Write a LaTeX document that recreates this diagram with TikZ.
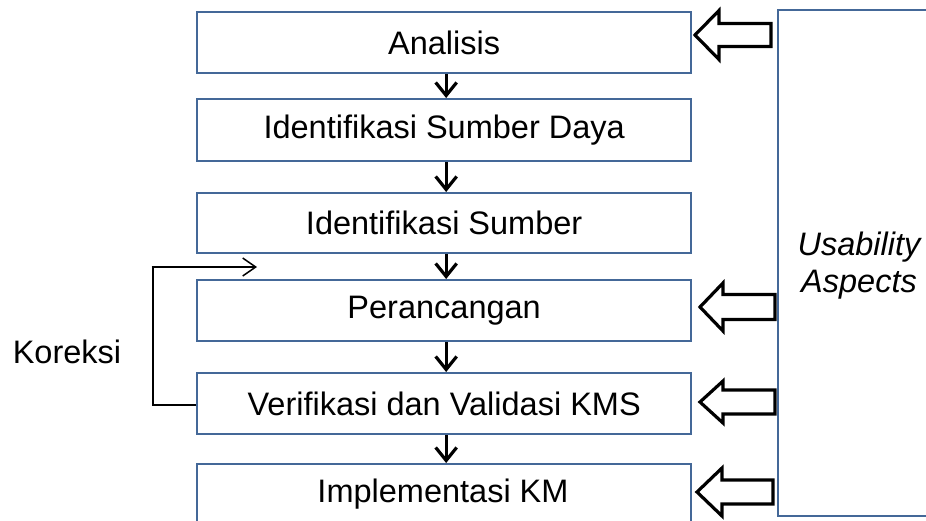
\documentclass[tikz,border=0pt]{standalone}
\usepackage{fontspec}
\setmainfont{Liberation Sans}
\usetikzlibrary{arrows.meta}
\definecolor{boxblue}{RGB}{68,104,152}
\tikzset{
  stepbox/.style={draw=boxblue, line width=2.3pt, fill=white, minimum width=494pt, anchor=north west, inner sep=0pt, font=\fontsize{32.5}{38}\selectfont},
  flowarrow/.style={line width=3.2pt, -{Straight Barb[length=13pt,width=21pt,line width=3.2pt]}},
  blockarrow/.style={draw=black, line width=3.2pt, fill=white, line join=miter},
  labeltext/.style={font=\fontsize{32.5}{37}\selectfont, inner sep=0pt}
}
\newcommand{\blockarrowat}[6]{% tipx, cy, headbasex, tailx, halfhead, halfshaft
  \draw[blockarrow] (#1,#2) -- (#3,#2-#5) -- (#3,#2-#6) -- (#4,#2-#6) -- (#4,#2+#6) -- (#3,#2+#6) -- (#3,#2+#5) -- cycle;
}
\begin{document}
\begin{tikzpicture}[x=1pt,y=-1pt]
\useasboundingbox (0,0) rectangle (926,520);
\clip (0,0) rectangle (926,520);
% right box
\node[draw=boxblue, line width=2.3pt, anchor=north west, minimum width=170pt, minimum height=506pt, inner sep=0pt] (ua) at (777,9) {};
\node[labeltext, align=center, font=\fontsize{32.5}{37}\selectfont\itshape] (ualabel) at (859,266) {Usability\\Aspects};
% process boxes
\node[stepbox, minimum height=61pt] (b1) at (196,11) {Analisis};
\node[stepbox, minimum height=62pt] (b2) at (196,98) {Identifikasi Sumber Daya};
\node[stepbox, minimum height=60pt] (b3) at (196,192) {Identifikasi Sumber};
\node[stepbox, minimum height=61pt] (b4) at (196,279) {Perancangan};
\node[stepbox, minimum height=61pt] (b5) at (196,372) {Verifikasi dan Validasi KMS};
\node[stepbox, minimum height=61pt] (b6) at (196,463) {};
\node[labeltext] (b6t) at (443,494) {Implementasi KM};
% flow arrows
\foreach \a/\b in {b1/b2,b2/b3,b3/b4,b4/b5,b5/b6}
  \draw[flowarrow] ([xshift=2pt]\a.south) -- ([xshift=2pt]\b.north);
% correction loop
\coordinate (c1) at (153,405);
\coordinate (c2) at (153,267);
\coordinate (c3) at (257,267);
\draw[line width=2.8pt] (b5.west |- c1) -- (c1) -- ([yshift=-1pt]c2);
\draw[line width=1.5pt, -{Straight Barb[length=13pt,width=18pt,line width=1.5pt]}] ([xshift=-1.4pt]c2) -- (c3);
\node[labeltext] (kor) at (67,352) {Koreksi};
% block arrows
\blockarrowat{695}{35}{719}{771}{24.5}{11.5}
\blockarrowat{700}{307}{723}{775}{24}{12.5}
\blockarrowat{700}{402}{723}{775}{21}{12}
\blockarrowat{697}{492}{722}{773}{24}{12}
\end{tikzpicture}
\end{document}
